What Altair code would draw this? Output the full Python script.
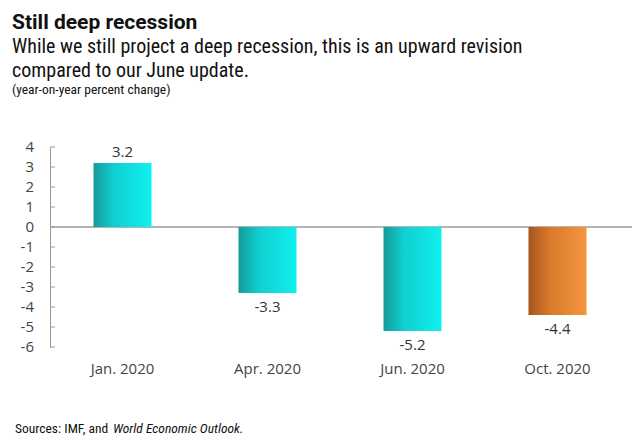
import altair as alt
import pandas as pd

# ---- data ----
categories = ["Jan. 2020", "Apr. 2020", "Jun. 2020", "Oct. 2020"]
values = [3.2, -3.3, -5.2, -4.4]
latest = [False, False, False, True]
y_ticks = [-6, -5, -4, -3, -2, -1, 0, 1, 2, 3, 4]

title_text = "Still deep recession"
subtitle_lines = [
    "While we still project a deep recession, this is an upward revision",
    "compared to our June update.",
]
unit_text = "(year-on-year percent change)"
source_plain = "Sources: IMF, and"
source_italic = "World Economic Outlook."

df = pd.DataFrame({"period": categories, "value": values, "latest": latest})
ticks_df = pd.DataFrame({"value": y_ticks})

W, H = 580, 200
NARROW = "Liberation Sans Narrow, Roboto Condensed, Roboto"

cyan_grad = alt.LinearGradient(
    gradient="linear", x1=0, x2=1, y1=0, y2=0,
    stops=[
        alt.GradientStop(offset=0, color="#159a9a"),
        alt.GradientStop(offset=0.35, color="#10cfcf"),
        alt.GradientStop(offset=1, color="#10f0f0"),
    ],
)
orange_grad = alt.LinearGradient(
    gradient="linear", x1=0, x2=1, y1=0, y2=0,
    stops=[
        alt.GradientStop(offset=0, color="#a5561d"),
        alt.GradientStop(offset=0.35, color="#d7782c"),
        alt.GradientStop(offset=1, color="#f5963d"),
    ],
)

y_scale = alt.Scale(domain=[-6, 4], nice=False, zero=False)
y_axis = alt.Axis(title=None, values=y_ticks, grid=False, ticks=False,
                  labels=False, domainColor="#999", domainWidth=1)

x_enc = alt.X(
    "period:N", sort=categories,
    scale=alt.Scale(paddingInner=0.6, paddingOuter=0.3),
    axis=alt.Axis(title=None, domain=False, ticks=False, labelAngle=0,
                  labelFont="Open Sans", labelFontSize=15, labelColor="#444",
                  labelPadding=14),
)
y_enc = alt.Y("value:Q", scale=y_scale, axis=y_axis)

base = alt.Chart(df)

bars_cyan = base.transform_filter("!datum.latest").mark_bar(fill=cyan_grad).encode(
    x=x_enc, y=y_enc, y2=alt.datum(0)
)

bars_orange = base.transform_filter("datum.latest").mark_bar(fill=orange_grad).encode(
    x=x_enc, y=y_enc, y2=alt.datum(0)
)

lab_pos = base.transform_filter("datum.value >= 0").transform_calculate(
    lbl="toString(datum.value)"
).mark_text(font="Open Sans", fontSize=15, color="#333",
            baseline="alphabetic", dy=-6).encode(
    x=x_enc, y=y_enc, text=alt.Text("lbl:N")
)

lab_neg = base.transform_filter("datum.value < 0").transform_calculate(
    lbl="toString(datum.value)"
).mark_text(font="Open Sans", fontSize=15, color="#333",
            baseline="alphabetic", dy=19).encode(
    x=x_enc, y=y_enc, text=alt.Text("lbl:N")
)

zero_line = alt.Chart(df).mark_rule(color="#b0b0b0", strokeWidth=1).encode(
    y=alt.datum(0), x=alt.value(0), x2=alt.value(582)
)

tick_marks = alt.Chart(ticks_df).mark_rule(color="#999", strokeWidth=1).encode(
    y=y_enc, x=alt.value(0), x2=alt.value(5)
)

tick_labels = alt.Chart(ticks_df).transform_calculate(
    lbl="toString(datum.value)"
).mark_text(font="Open Sans", fontSize=15, color="#444",
            align="right", baseline="middle").encode(
    y=y_enc, x=alt.value(-16), text=alt.Text("lbl:N")
)

one = pd.DataFrame({"k": [0]})

def txt(text, x, y, **kw):
    return alt.Chart(one).mark_text(align="left", baseline="alphabetic", **kw).encode(
        x=alt.value(x), y=alt.value(y), text=alt.value(text)
    )

t_title = txt(title_text, -38, -118, font="Roboto", fontSize=21, fontWeight="bold", color="#111")
t_sub1 = txt(subtitle_lines[0], -38, -94, font=NARROW, fontSize=20, color="#111")
t_sub2 = txt(subtitle_lines[1], -38, -70, font=NARROW, fontSize=20, color="#111")
t_unit = txt(unit_text, -38, -53, font=NARROW, fontSize=13.5, color="#111")
t_src1 = txt(source_plain, -35, 286, font=NARROW, fontSize=13.5, color="#111")
t_src2 = txt(source_italic, 63, 286, font=NARROW, fontSize=13.5, fontStyle="italic", color="#111")

chart = alt.layer(
    zero_line, tick_marks, tick_labels, bars_cyan, bars_orange, lab_pos, lab_neg,
    t_title, t_sub1, t_sub2, t_unit, t_src1, t_src2,
).properties(
    width=W, height=H,
    autosize=alt.AutoSizeParams(type="none"),
    padding={"left": 50, "top": 147, "right": 10, "bottom": 94},
    background="white",
).configure_view(stroke=None)

chart.save("out.html", embed_options={"renderer": "svg", "actions": False})
